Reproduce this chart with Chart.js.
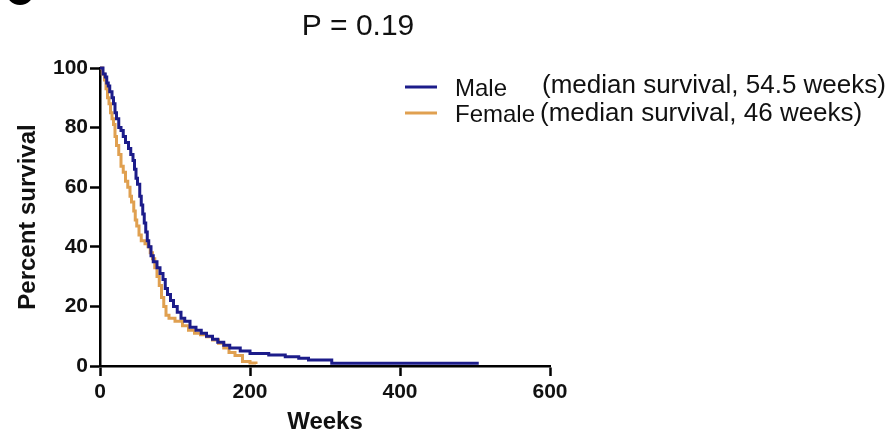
<!DOCTYPE html>
<html>
<head>
<meta charset="utf-8">
<script src="https://cdn.jsdelivr.net/npm/chart.js@4/dist/chart.umd.min.js"></script>
<style>
    html, body { margin: 0; padding: 0; background: #fff; }
    #wrap { width: 894px; height: 436px; position: relative; }
</style>
</head>
<body>
<div id="wrap"><canvas id="kmChart"></canvas></div>
<script>
// Kaplan-Meier Kurven (Wochen / Prozent)
const maleWeeks = [0, 4, 7, 9, 11, 13, 16, 18, 20, 22, 25, 28, 31, 34, 38, 41, 44, 46, 48, 50,
    53, 55, 57, 59, 61, 63, 65, 68, 71, 76, 80, 84, 87, 90, 94, 98, 103, 108, 113, 120,
    128, 135, 142, 150, 157, 165, 173, 187, 200, 225, 247, 265, 278, 309, 505];
const maleSurvival = [100, 98, 97, 95, 94, 92, 90, 88, 85, 83, 80, 79, 77, 75, 73, 71, 69, 66, 63, 61,
    57, 54, 51, 48, 45, 42, 40, 37, 35, 33, 31, 29, 26, 24, 22, 20, 18, 16, 15, 13,
    12, 11, 10, 9, 8, 7, 6, 5, 4.2, 3.7, 3.1, 2.6, 2, 0.9, 0.9];

const femaleWeeks = [0, 3, 6, 8, 10, 12, 14, 16, 18, 20, 22, 25, 28, 31, 34, 37, 40, 42, 45, 47,
    49, 52, 55, 60, 64, 67, 70, 73, 76, 79, 82, 85, 88, 92, 100, 110, 118, 126, 134, 142,
    150, 158, 165, 172, 180, 190, 200, 208];
const femaleSurvival = [100, 98, 96, 93, 90, 88, 85, 83, 81, 77, 74, 71, 67, 65, 62, 60, 57, 55, 52, 49,
    47, 44, 42, 41, 40, 38, 36, 33, 30, 27, 23, 20, 17, 16, 15, 13.5, 12, 11, 10.5, 9.8,
    8.7, 7.6, 6, 4.5, 3.5, 1.5, 1, 0.7];

const xTicks = [0, 200, 400, 600];
const yTicks = [0, 20, 40, 60, 80, 100];

const pValueText = 'P = 0.19';
const groupNames = ['Male', 'Female'];
const medianTexts = ['(median survival, 54.5 weeks)', '(median survival, 46 weeks)'];

const COLOR_MALE = '#1c1c8a';
const COLOR_FEMALE = '#e0a050';
const FONT = '"Liberation Sans", Arial, Helvetica, sans-serif';

const toPoints = (xs, ys) => xs.map((x, i) => ({ x: x, y: ys[i] }));

// P-Wert, Legende und angeschnittener Panel-Kreis
const annotationPlugin = {
    id: 'kmAnnotations',
    afterDraw(chart) {
        const ctx = chart.ctx;
        ctx.save();

        ctx.fillStyle = '#000';
        ctx.beginPath();
        ctx.arc(20, -9, 14, 0, Math.PI * 2);
        ctx.fill();

        ctx.fillStyle = '#111';
        ctx.textBaseline = 'alphabetic';
        ctx.textAlign = 'center';
        ctx.font = `30px ${FONT}`;
        ctx.fillText(pValueText, 358, 35);

        const colors = [COLOR_MALE, COLOR_FEMALE];
        const lineY = [87, 113];
        const nameY = [96, 122];
        const medY = [93, 121];
        ctx.textAlign = 'left';
        groupNames.forEach((name, i) => {
            ctx.strokeStyle = colors[i];
            ctx.lineWidth = 3;
            ctx.beginPath();
            ctx.moveTo(405, lineY[i]);
            ctx.lineTo(437, lineY[i]);
            ctx.stroke();

            ctx.fillStyle = '#111';
            ctx.font = `24px ${FONT}`;
            ctx.fillText(name, 455, nameY[i]);
            ctx.font = `26px ${FONT}`;
            ctx.fillText(medianTexts[i], i === 0 ? 542 : 540, medY[i]);
        });
        ctx.restore();
    }
};

const axisCommon = {
    border: { display: true, color: '#000', width: 2.5 },
    grid: {
        drawOnChartArea: false,
        drawTicks: true,
        tickLength: 10,
        tickWidth: 2.5,
        tickColor: '#000'
    }
};

new Chart(document.getElementById('kmChart'), {
    type: 'line',
    data: {
        datasets: [
            {
                label: groupNames[0],
                data: toPoints(maleWeeks, maleSurvival),
                borderColor: COLOR_MALE,
                borderWidth: 3,
                stepped: 'before',
                pointRadius: 0,
                fill: false,
                clip: 6
            },
            {
                label: groupNames[1],
                data: toPoints(femaleWeeks, femaleSurvival),
                borderColor: COLOR_FEMALE,
                borderWidth: 3,
                stepped: 'before',
                pointRadius: 0,
                fill: false,
                clip: 6
            }
        ]
    },
    options: {
        responsive: true,
        maintainAspectRatio: false,
        animation: false,
        layout: { padding: { left: 0, top: 68, right: 344, bottom: 0 } },
        plugins: {
            legend: { display: false },
            tooltip: { enabled: false },
            title: { display: false }
        },
        scales: {
            x: {
                ...axisCommon,
                type: 'linear',
                min: 0,
                max: 600,
                afterFit(scale) { scale.height = 70; },
                afterBuildTicks(scale) { scale.ticks = xTicks.map(v => ({ value: v })); },
                ticks: {
                    color: '#111',
                    padding: 4,
                    maxRotation: 0,
                    font: { family: FONT, size: 21, weight: 'bold' }
                },
                title: {
                    display: true,
                    text: 'Weeks',
                    color: '#111',
                    padding: { top: 0, bottom: 2 },
                    font: { family: FONT, size: 24, weight: 'bold', lineHeight: 1 }
                }
            },
            y: {
                ...axisCommon,
                type: 'linear',
                min: 0,
                max: 100,
                afterFit(scale) { scale.width = 100; },
                afterBuildTicks(scale) { scale.ticks = yTicks.map(v => ({ value: v })); },
                ticks: {
                    color: '#111',
                    padding: 2,
                    font: { family: FONT, size: 21, weight: 'bold' }
                },
                title: {
                    display: true,
                    text: 'Percent survival',
                    color: '#111',
                    padding: { top: 16, bottom: 0 },
                    font: { family: FONT, size: 24, weight: 'bold', lineHeight: 1 }
                }
            }
        }
    },
    plugins: [annotationPlugin]
});
</script>
</body>
</html>
